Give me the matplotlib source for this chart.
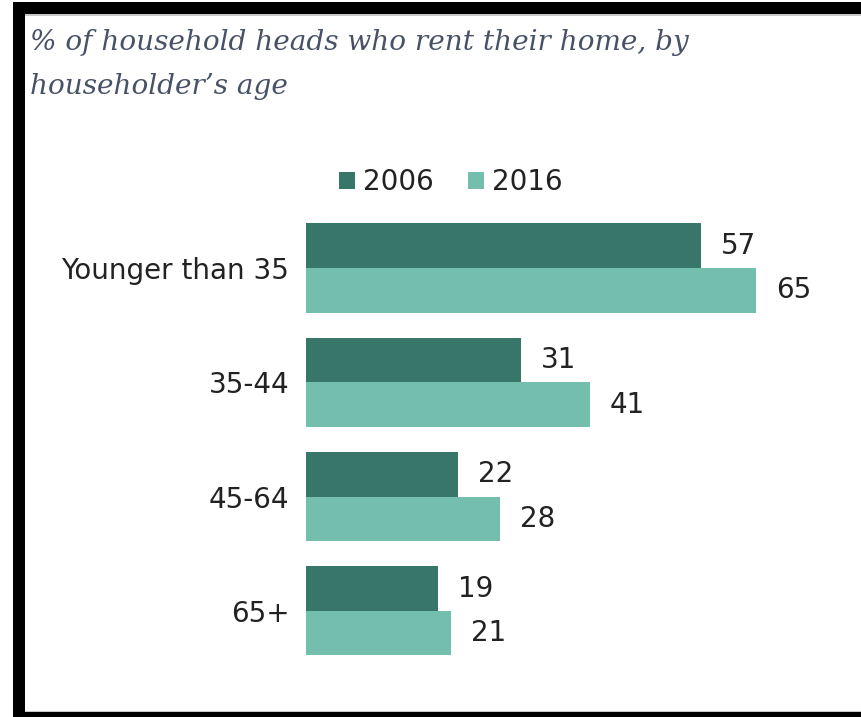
import matplotlib.pyplot as plt
from matplotlib.patches import Rectangle

# renter share by age of household head
categories = ['Younger than 35', '35-44', '45-64', '65+']
years = ['2006', '2016']
rent_2006 = [57, 31, 22, 19]
rent_2016 = [65, 41, 28, 21]

dark = '#39766a'
light = '#74bead'
txt = '#222222'
fs = 20

W, H = 861, 717
fig = plt.figure(figsize=(W / 100, H / 100), dpi=100)
fig.patch.set_facecolor('white')

# frame round the chart
def px_rect(x0, y0, x1, y1, color):
    fig.patches.append(Rectangle((x0 / W, 1 - y1 / H), (x1 - x0) / W, (y1 - y0) / H,
                                 transform=fig.transFigure, facecolor=color,
                                 edgecolor='none', zorder=0))

px_rect(13, 2, W, 14, 'black')
px_rect(13, 2, 25, H, 'black')
px_rect(13, 712, W, H, 'black')
px_rect(25, 14, W, 15.5, '#c8c8c8')
px_rect(25, 710.5, W, 712, '#c8c8c8')

fig.text(30 / W, 1 - 29 / H, '% of household heads who rent their home, by\nhouseholder\u2019s age',
         ha='left', va='top', fontsize=20.1, style='italic', family='DejaVu Serif',
         color='#485266', linespacing=1.8)

ax = fig.add_axes([306 / W, 1 - 700 / H, (W - 306) / W, 500 / H])
h = 0.39
ys = list(range(len(categories)))
ax.barh([y - h / 2 for y in ys], rent_2006, height=h, color=dark, label=years[0])
ax.barh([y + h / 2 for y in ys], rent_2016, height=h, color=light, label=years[1])

for y, v in zip(ys, rent_2006):
    ax.text(v + 2.9, y - h / 2, str(v), va='center', ha='left', fontsize=fs, color=txt)
for y, v in zip(ys, rent_2016):
    ax.text(v + 2.9, y + h / 2, str(v), va='center', ha='left', fontsize=fs, color=txt)

ax.set_xlim(0, (W - 306) / 6.923)
ax.set_ylim(3.78, -0.595)
ax.set_yticks(ys)
ax.set_yticklabels(categories, fontsize=fs, color=txt)
ax.tick_params(axis='y', length=0, pad=12)
ax.set_xticks([])
for s in ax.spines.values():
    s.set_visible(False)

leg = fig.legend(loc='center left', bbox_to_anchor=(314 / W, 1 - 182 / H), ncol=2,
                 frameon=False, handlelength=0.58, handleheight=0.58, handletextpad=0.3,
                 columnspacing=1.2, prop={'size': fs})
for t in leg.get_texts():
    t.set_color(txt)

fig.savefig('out.png', dpi=100)
